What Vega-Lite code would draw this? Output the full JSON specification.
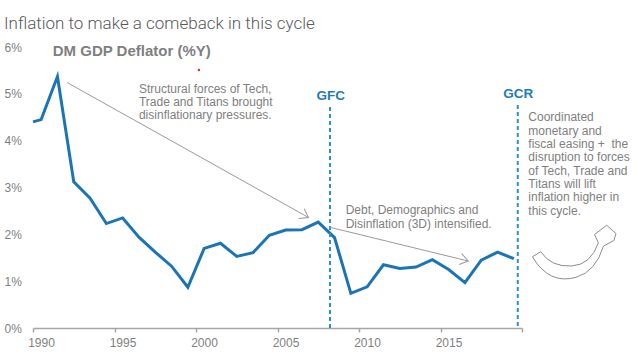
{
  "$schema": "https://vega.github.io/schema/vega-lite/v6.json",
  "width": 489,
  "height": 281,
  "autosize": "none",
  "padding": {"left": 33, "top": 47, "right": 118, "bottom": 32},
  "background": "white",
  "title": {
    "text": "Inflation to make a comeback in this cycle",
    "anchor": "start",
    "dx": 0,
    "dy": 19,
    "font": "Roboto",
    "fontWeight": 300,
    "fontSize": 17,
    "color": "#595959",
    "baseline": "alphabetic",
    "offset": 14
  },
  "datasets": {
    "series": [
      {"year": 1990.0, "value": 4.40},
      {"year": 1990.5, "value": 4.45},
      {"year": 1991.5, "value": 5.37},
      {"year": 1992.5, "value": 3.12},
      {"year": 1993.5, "value": 2.77},
      {"year": 1994.5, "value": 2.23},
      {"year": 1995.5, "value": 2.35},
      {"year": 1996.5, "value": 1.94},
      {"year": 1997.5, "value": 1.62},
      {"year": 1998.5, "value": 1.32},
      {"year": 1999.5, "value": 0.87},
      {"year": 2000.5, "value": 1.70},
      {"year": 2001.5, "value": 1.81},
      {"year": 2002.5, "value": 1.53},
      {"year": 2003.5, "value": 1.61},
      {"year": 2004.5, "value": 1.98},
      {"year": 2005.5, "value": 2.09},
      {"year": 2006.5, "value": 2.10},
      {"year": 2007.5, "value": 2.26},
      {"year": 2008.5, "value": 1.93},
      {"year": 2009.5, "value": 0.74},
      {"year": 2010.5, "value": 0.88},
      {"year": 2011.5, "value": 1.35},
      {"year": 2012.5, "value": 1.27},
      {"year": 2013.5, "value": 1.30},
      {"year": 2014.5, "value": 1.46},
      {"year": 2015.5, "value": 1.25},
      {"year": 2016.5, "value": 0.97},
      {"year": 2017.5, "value": 1.45},
      {"year": 2018.5, "value": 1.62},
      {"year": 2019.5, "value": 1.48}
    ],
    "events": [
      {"label": "GFC", "year": 2008.22, "top": 4.72, "labelYear": 2008.26, "labelValue": 4.86},
      {"label": "GCR", "year": 2019.74, "top": 4.76, "labelYear": 2019.77, "labelValue": 4.91}
    ],
    "arrow1": [{"year": 1992.1, "value": 5.24, "year2": 2006.9, "value2": 2.36}],
    "arrow2": [{"year": 2008.22, "value": 2.15, "year2": 2016.7, "value2": 1.43}],
    "notes": [
      {"year": 1996.5, "value": 5.02, "label": "Structural forces of Tech,\nTrade and Titans brought\ndisinflationary pressures."},
      {"year": 2009.18, "value": 2.425, "label": "Debt, Demographics and\nDisinflation (3D) intensified."},
      {"year": 2020.39, "value": 4.41, "label": "Coordinated\nmonetary and\nfiscal easing +\u00a0 the\ndisruption to forces\nof Tech, Trade and\nTitans will lift\ninflation higher in\nthis cycle."}
    ],
    "heading": [{"year": 1991.21, "value": 5.80, "label": "DM GDP Deflator (%Y)"}],
    "dot": [{"year": 2000.18, "value": 5.51}],
    "curve": [{"year": 2023.19, "value": 1.62}]
  },
  "config": {
    "view": {"stroke": null},
    "axisX": {
      "domainColor": "#a6a6a6",
      "domainWidth": 1.5,
      "tickColor": "#a6a6a6",
      "tickWidth": 1.5,
      "tickSize": 4,
      "labelFont": "Liberation Sans",
      "labelFontSize": 12,
      "labelColor": "#7f7f7f",
      "labelPadding": 5,
      "labelOffset": 8,
      "labelFlush": false,
      "labelOverlap": false,
      "grid": false,
      "title": null
    },
    "axisY": {
      "domain": false,
      "ticks": false,
      "tickSize": 0,
      "grid": false,
      "labelAlign": "left",
      "labelPadding": 29,
      "labelFont": "Liberation Sans",
      "labelFontSize": 12,
      "labelColor": "#7f7f7f",
      "labelFlush": false,
      "title": null
    }
  },
  "layer": [
    {
      "data": {"name": "series"},
      "mark": {"type": "line", "color": "#1b75b5", "strokeWidth": 3},
      "encoding": {
        "x": {
          "field": "year", "type": "quantitative",
          "scale": {"domain": [1990, 2020], "nice": false, "zero": false},
          "axis": {"values": [1990, 1995, 2000, 2005, 2010, 2015, 2020], "labelExpr": "datum.value == 2020 ? '' : format(datum.value, 'd')", "title": null}
        },
        "y": {
          "field": "value", "type": "quantitative",
          "scale": {"domain": [0, 6], "nice": false},
          "axis": {"values": [0, 1, 2, 3, 4, 5, 6], "labelExpr": "datum.value + '%'", "title": null}
        }
      }
    },
    {
      "data": {"name": "events"},
      "mark": {"type": "rule", "color": "#2e8fd0", "strokeWidth": 2, "strokeDash": [4, 3]},
      "encoding": {
        "x": {"field": "year", "type": "quantitative"},
        "y": {"field": "top", "type": "quantitative"},
        "y2": {"datum": 0}
      }
    },
    {
      "data": {"name": "events"},
      "mark": {"type": "text", "font": "Liberation Sans", "fontWeight": "bold", "fontSize": 13.5, "color": "#1f7bbd", "align": "center", "baseline": "alphabetic"},
      "encoding": {
        "x": {"field": "labelYear", "type": "quantitative"},
        "y": {"field": "labelValue", "type": "quantitative"},
        "text": {"field": "label"}
      }
    },
    {
      "data": {"name": "arrow1"},
      "mark": {"type": "rule", "color": "#9a9a9a", "strokeWidth": 1},
      "encoding": {
        "x": {"field": "year", "type": "quantitative"},
        "y": {"field": "value", "type": "quantitative"},
        "x2": {"field": "year2"},
        "y2": {"field": "value2"}
      }
    },
    {
      "data": {"name": "arrow1"},
      "mark": {"type": "point", "shape": "M-1,-0.7L0,0L-1,0.7", "angle": 29.2, "size": 256, "filled": false, "color": "#9a9a9a", "strokeWidth": 1, "opacity": 1},
      "encoding": {
        "x": {"field": "year2", "type": "quantitative"},
        "y": {"field": "value2", "type": "quantitative"}
      }
    },
    {
      "data": {"name": "arrow2"},
      "mark": {"type": "rule", "color": "#9a9a9a", "strokeWidth": 1},
      "encoding": {
        "x": {"field": "year", "type": "quantitative"},
        "y": {"field": "value", "type": "quantitative"},
        "x2": {"field": "year2"},
        "y2": {"field": "value2"}
      }
    },
    {
      "data": {"name": "arrow2"},
      "mark": {"type": "point", "shape": "M-1,-0.7L0,0L-1,0.7", "angle": 13.7, "size": 256, "filled": false, "color": "#9a9a9a", "strokeWidth": 1, "opacity": 1},
      "encoding": {
        "x": {"field": "year2", "type": "quantitative"},
        "y": {"field": "value2", "type": "quantitative"}
      }
    },
    {
      "data": {"name": "notes"},
      "mark": {"type": "text", "font": "Liberation Sans", "fontSize": 12, "color": "#808080", "align": "left", "baseline": "alphabetic", "lineBreak": "\n", "lineHeight": 13.3},
      "encoding": {
        "x": {"field": "year", "type": "quantitative"},
        "y": {"field": "value", "type": "quantitative"},
        "text": {"field": "label"}
      }
    },
    {
      "data": {"name": "heading"},
      "mark": {"type": "text", "font": "Liberation Sans", "fontWeight": "bold", "fontSize": 15, "color": "#7f7f7f", "align": "left", "baseline": "alphabetic"},
      "encoding": {
        "x": {"field": "year", "type": "quantitative"},
        "y": {"field": "value", "type": "quantitative"},
        "text": {"field": "label"}
      }
    },
    {
      "data": {"name": "dot"},
      "mark": {"type": "point", "shape": "circle", "size": 6, "filled": true, "color": "#e8262b", "opacity": 1},
      "encoding": {
        "x": {"field": "year", "type": "quantitative"},
        "y": {"field": "value", "type": "quantitative"}
      }
    },
    {
      "data": {"name": "curve"},
      "mark": {"type": "point", "shape": "M-0.99,0.11Q-0.6,0.78,0.05,0.6Q0.52,0.46,0.70,-0.14L0.95,-0.28L1.0,-0.44L0.78,-0.64L0.49,-0.42L0.58,-0.22Q0.40,0.3,-0.05,0.33Q-0.55,0.36,-0.79,-0.01Z", "size": 7056, "filled": true, "fill": "white", "stroke": "#8c8c8c", "strokeWidth": 1, "opacity": 1},
      "encoding": {
        "x": {"field": "year", "type": "quantitative"},
        "y": {"field": "value", "type": "quantitative"}
      }
    }
  ]
}
